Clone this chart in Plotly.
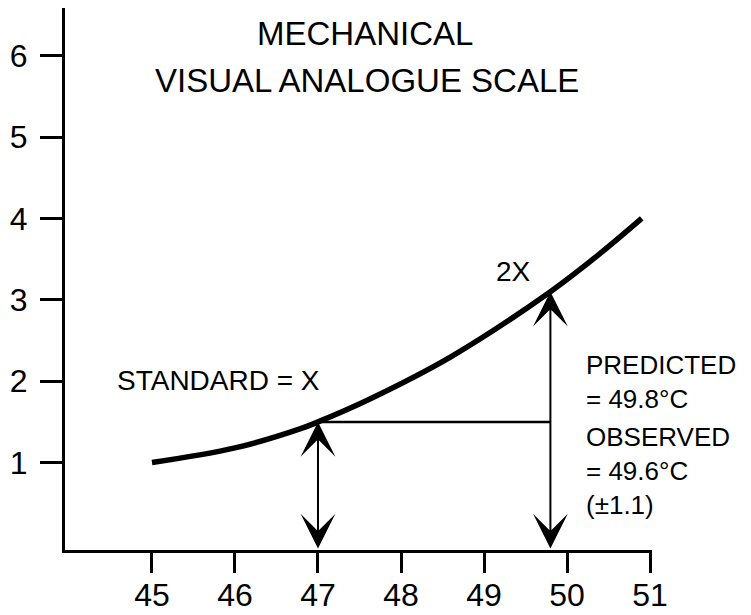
import numpy as np
import plotly.graph_objects as go

# Data
temp_c = [45.0, 46.0, 46.8, 47.0, 47.6, 48.6, 49.8, 50.4, 50.9]
magnitude = [1.0, 1.18, 1.42, 1.5, 1.77, 2.30, 3.1, 3.57, 4.0]
x_ticks = [45, 46, 47, 48, 49, 50, 51]
y_ticks = [1, 2, 3, 4, 5, 6]
standard_x = 47.0
predicted_x = 49.8

title_lines = ["MECHANICAL", "VISUAL ANALOGUE SCALE"]
standard_label = "STANDARD = X"
double_label = "2X"
predicted_block = "PREDICTED<br>= 49.8°C"
observed_block = "OBSERVED<br>= 49.6°C<br>(±1.1)"

x_range = [43.952, 51.024]
y_range = [-0.074, 6.585]

standard_y = float(np.interp(standard_x, temp_c, magnitude))
predicted_y = float(np.interp(predicted_x, temp_c, magnitude))

FONT = "Liberation Sans, Arial, Helvetica, sans-serif"

fig = go.Figure()
fig.add_trace(go.Scatter(x=temp_c, y=magnitude, mode="lines",
                         line=dict(color="black", width=5.5, shape="spline"),
                         hoverinfo="skip", showlegend=False))
fig.add_trace(go.Scatter(x=[standard_x, predicted_x], y=[standard_y, standard_y],
                         mode="lines", line=dict(color="black", width=2.5),
                         hoverinfo="skip", showlegend=False))

annotations = []
for ax_x, tip_y in [(standard_x, standard_y), (predicted_x, predicted_y)]:
    annotations.append(dict(
        x=ax_x, y=tip_y, ax=ax_x, ay=y_range[0], xref="x", yref="y",
        axref="x", ayref="y", text="", showarrow=True,
        arrowhead=3, arrowsize=2.9, arrowwidth=2, arrowcolor="black",
        arrowside="end+start", startarrowhead=3, startarrowsize=2.9,
        standoff=0, startstandoff=0))

annotations.append(dict(x=47.57, y=6.27, text=title_lines[0], showarrow=False,
                        xanchor="center", yanchor="middle",
                        font=dict(size=33, family=FONT, color="black")))
annotations.append(dict(x=47.59, y=5.70, text=title_lines[1], showarrow=False,
                        xanchor="center", yanchor="middle",
                        font=dict(size=33, family=FONT, color="black")))
annotations.append(dict(x=44.55, y=2.01, text=standard_label, showarrow=False,
                        xanchor="left", yanchor="middle",
                        font=dict(size=28, family=FONT, color="black")))
annotations.append(dict(x=49.35, y=3.35, text=double_label, showarrow=False,
                        xanchor="center", yanchor="middle",
                        font=dict(size=28, family=FONT, color="black")))
annotations.append(dict(x=50.20, y=1.99, text=predicted_block, showarrow=False,
                        xanchor="left", yanchor="middle", align="left",
                        font=dict(size=26, family=FONT, color="black")))
annotations.append(dict(x=50.20, y=0.90, text=observed_block, showarrow=False,
                        xanchor="left", yanchor="middle", align="left",
                        font=dict(size=26, family=FONT, color="black")))

# The page body adds an 8px margin, so the figure is sized to fill the window
fig.update_layout(
    width=743, height=607,
    margin=dict(l=57, r=99, t=0, b=65),
    paper_bgcolor="white", plot_bgcolor="white",
    showlegend=False,
    annotations=annotations,
    font=dict(family=FONT, color="black"),
)
fig.update_xaxes(range=x_range, tickvals=x_ticks, ticktext=[str(v) for v in x_ticks],
                 showgrid=False, zeroline=False, showline=True, linecolor="black",
                 linewidth=3, ticks="outside", ticklen=20, tickwidth=3,
                 tickcolor="black", tickfont=dict(size=32, family=FONT, color="black"),
                 ticklabelstandoff=-5, automargin=False)
fig.update_yaxes(range=y_range, tickvals=y_ticks, ticktext=[str(v) for v in y_ticks],
                 showgrid=False, zeroline=False, showline=True, linecolor="black",
                 linewidth=3, ticks="outside", ticklen=22, tickwidth=3,
                 tickcolor="black", tickfont=dict(size=32, family=FONT, color="black"),
                 ticklabelstandoff=6, automargin=False)

fig.write_html("out.html")
